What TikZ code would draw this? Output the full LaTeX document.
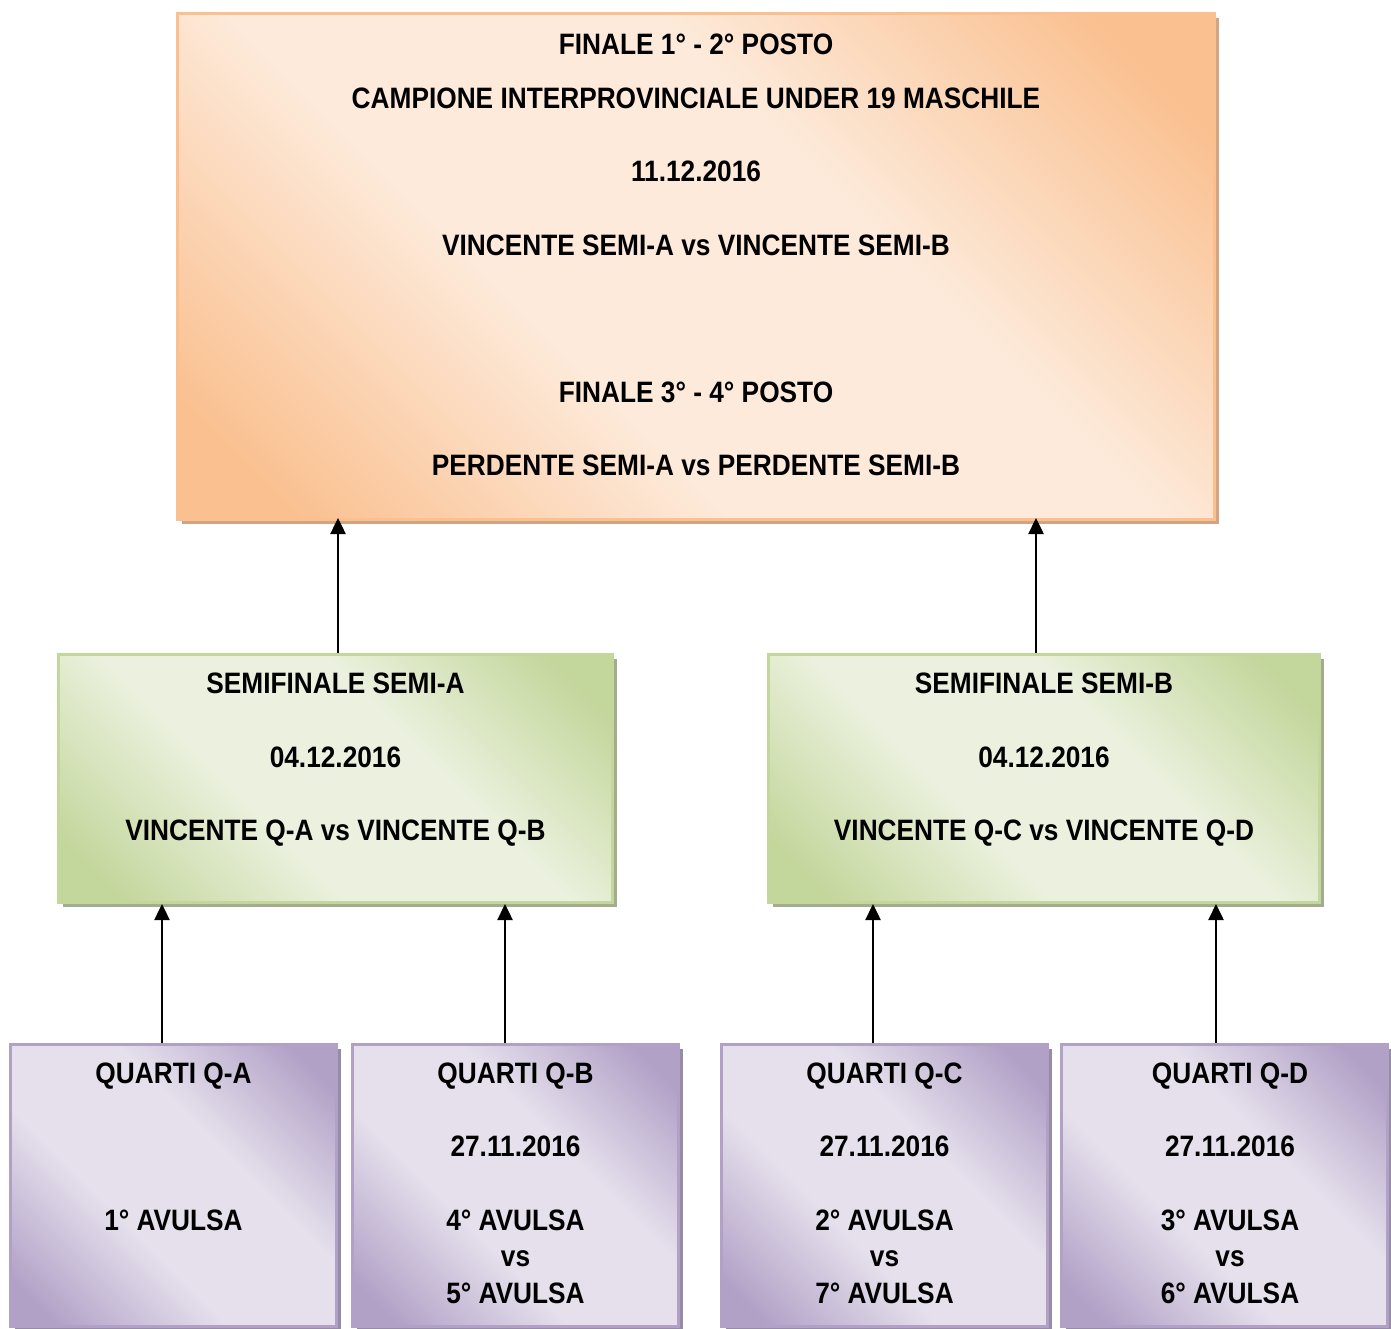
\documentclass[tikz,border=0pt]{standalone}
\usepackage{fontspec}
\newfontfamily\narrowsans{Liberation Sans}[FakeStretch=0.89]
\usetikzlibrary{arrows.meta,shadows}

\definecolor{finD}{RGB}{250,192,144}
\definecolor{finL}{RGB}{253,234,218}
\definecolor{finS}{RGB}{209,164,130}
\definecolor{semD}{RGB}{195,214,155}
\definecolor{semL}{RGB}{235,241,222}
\definecolor{semS}{RGB}{163,172,140}
\definecolor{quaD}{RGB}{178,161,199}
\definecolor{quaL}{RGB}{229,224,236}
\definecolor{quaS}{RGB}{150,140,165}

\pgfdeclareverticalshading{finshade}{100bp}{color(0bp)=(finD); color(20bp)=(finD); color(40bp)=(finL); color(60bp)=(finL); color(80bp)=(finD); color(100bp)=(finD)}
\pgfdeclareverticalshading{semshade}{100bp}{color(0bp)=(semD); color(20bp)=(semD); color(40bp)=(semL); color(60bp)=(semL); color(80bp)=(semD); color(100bp)=(semD)}
\pgfdeclareverticalshading{quashade}{100bp}{color(0bp)=(quaD); color(20bp)=(quaD); color(40bp)=(quaL); color(60bp)=(quaL); color(80bp)=(quaD); color(100bp)=(quaD)}

\tikzset{
  box/.style={draw, line width=3pt, inner sep=0pt, shading angle=-45},
  finbox/.style={box, draw=finD, shading=finshade,
    drop shadow={shadow xshift=4pt, shadow yshift=-4pt, fill=finS, opacity=1}},
  sembox/.style={box, draw=semD, shading=semshade,
    drop shadow={shadow xshift=4pt, shadow yshift=-4pt, fill=semS, opacity=1}},
  quabox/.style={box, draw=quaD, shading=quashade,
    drop shadow={shadow xshift=4pt, shadow yshift=-4pt, fill=quaS, opacity=1}},
  lbl/.style={font=\narrowsans\bfseries\fontsize{29.5pt}{36.7pt}\selectfont,
    align=center, anchor=base, inner sep=0pt},
  arr/.style={-{Triangle[width=15pt,length=16pt]}, line width=2.5pt}
}

\begin{document}
\begin{tikzpicture}[x=1pt,y=-1pt]
  \useasboundingbox (0,0) rectangle (1391,1328);
  \node (fin) [finbox, minimum width=1037pt, minimum height=506pt] at (696,266.5) {};
  \node (sa) [sembox, minimum width=554pt, minimum height=248pt] at (335.5,778.5) {};
  \node (sb) [sembox, minimum width=551pt, minimum height=248pt] at (1044,778.5) {};
  \node (qa) [quabox, minimum width=326pt, minimum height=282pt] at (173.5,1185.5) {};
  \node (qb) [quabox, minimum width=326pt, minimum height=282pt] at (515.5,1185.5) {};
  \node (qc) [quabox, minimum width=326pt, minimum height=282pt] at (884.5,1185.5) {};
  \node (qd) [quabox, minimum width=326pt, minimum height=282pt] at (1224.5,1185.5) {};

  \node (finT) [lbl] at (696,475.5) {FINALE 1° - 2° POSTO\\[17.3pt]
    CAMPIONE INTERPROVINCIALE UNDER 19 MASCHILE\\[36.7pt]
    11.12.2016\\[36.7pt]
    VINCENTE SEMI-A vs VINCENTE SEMI-B\\[110.3pt]
    FINALE 3° - 4° POSTO\\[36.7pt]
    PERDENTE SEMI-A vs PERDENTE SEMI-B};
  \node (saT) [lbl] at (335.5,840.5) {SEMIFINALE SEMI-A\\[36.7pt]
    04.12.2016\\[36.7pt]
    VINCENTE Q-A vs VINCENTE Q-B};
  \node (sbT) [lbl] at (1044,840.5) {SEMIFINALE SEMI-B\\[36.7pt]
    04.12.2016\\[36.7pt]
    VINCENTE Q-C vs VINCENTE Q-D};
  \node (qaT) [lbl] at (173.5,1230.5) {QUARTI Q-A\\[110.3pt]
    1° AVULSA};
  \node (qbT) [lbl] at (515.5,1303.5) {QUARTI Q-B\\[36.7pt]
    27.11.2016\\[36.7pt]
    4° AVULSA\\ vs\\ 5° AVULSA};
  \node (qcT) [lbl] at (884.5,1303.5) {QUARTI Q-C\\[36.7pt]
    27.11.2016\\[36.7pt]
    2° AVULSA\\ vs\\ 7° AVULSA};
  \node (qdT) [lbl] at (1230,1303.5) {QUARTI Q-D\\[36.7pt]
    27.11.2016\\[36.7pt]
    3° AVULSA\\ vs\\ 6° AVULSA};

  \draw[arr, shorten >=-3pt] ([xshift=2.5pt]sa.north) -- ([xshift=2.5pt]sa.north |- fin.south);
  \draw[arr, shorten >=-3pt] ([xshift=-8pt]sb.north) -- ([xshift=-8pt]sb.north |- fin.south);
  \draw[arr] ([xshift=-11.5pt]qa.north) -- ([xshift=-11.5pt]qa.north |- sa.south);
  \draw[arr] ([xshift=-10.5pt]qb.north) -- ([xshift=-10.5pt]qb.north |- sa.south);
  \draw[arr] ([xshift=-11.5pt]qc.north) -- ([xshift=-11.5pt]qc.north |- sb.south);
  \draw[arr] ([xshift=-8.5pt]qd.north) -- ([xshift=-8.5pt]qd.north |- sb.south);
\end{tikzpicture}
\end{document}
